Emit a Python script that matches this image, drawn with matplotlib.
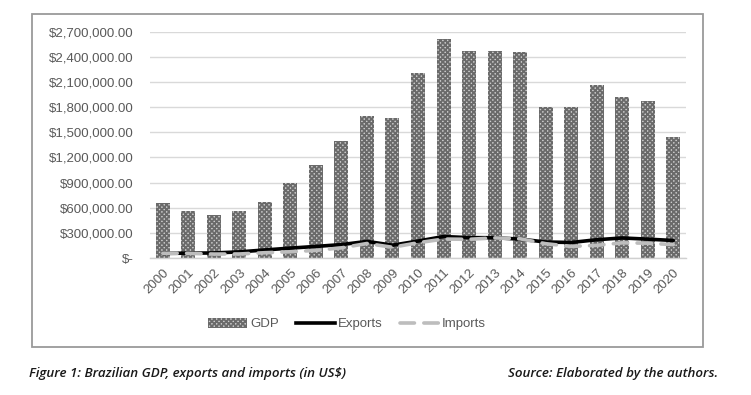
import matplotlib
matplotlib.use("Agg")
import matplotlib.pyplot as plt
from matplotlib.ticker import FuncFormatter
from matplotlib.patches import Rectangle, Patch
from matplotlib.lines import Line2D
import numpy as np

years = [str(y) for y in range(2000, 2021)]
gdp = [655000, 560000, 510000, 558000, 669000, 892000, 1107000, 1397000, 1696000,
       1667000, 2209000, 2616000, 2465000, 2473000, 2456000, 1802000, 1796000,
       2064000, 1917000, 1877000, 1445000]
exports = [55000, 58000, 60000, 73000, 96000, 118000, 138000, 160000, 198000, 153000,
           202000, 256000, 243000, 242000, 225000, 191000, 185000, 218000, 239000,
           225000, 209000]
imports = [56000, 56000, 47000, 48000, 63000, 74000, 91000, 121000, 173000, 128000,
           182000, 226000, 223000, 240000, 229000, 171000, 138000, 151000, 181000,
           177000, 159000]
yticks = [0, 300000, 600000, 900000, 1200000, 1500000, 1800000, 2100000, 2400000, 2700000]

plt.rcParams['font.family'] = ['Liberation Sans', 'DejaVu Sans']
plt.rcParams['hatch.linewidth'] = 1.3

W, H = 751, 395
fig = plt.figure(figsize=(W / 100, H / 100), dpi=100)

# outer chart frame
fig.patches.append(Rectangle((32 / W, 1 - 347 / H), (703 - 32) / W, (347 - 14) / H,
                             transform=fig.transFigure, fill=False,
                             edgecolor='#9a9a9a', linewidth=1.3, zorder=0))

ax = fig.add_axes([150 / W, 1 - 258 / H, (686 - 150) / W, (258 - 31.7) / H])
x = np.arange(len(years))

BAR_FC, BAR_EC, BAR_H = '#cdcdcd', '#6a6a6a', 'xxxxxxx'
ax.bar(x, gdp, width=0.55, facecolor=BAR_FC, edgecolor=BAR_EC,
       hatch=BAR_H, linewidth=0, zorder=2)
ax.plot(x, exports, color='black', linewidth=2.6, solid_capstyle='round', zorder=3)
ax.plot(x, imports, color='#bdbdbd', linewidth=2.6, dashes=(4, 2.6),
        dash_capstyle='round', zorder=4)

ax.set_xlim(-0.5, len(years) - 0.5)
ax.set_ylim(0, 2700000)
ax.set_yticks(yticks)


def fmt(v, pos):
    if v == 0:
        return '$-'
    return '${:,.2f}'.format(v)


ax.yaxis.set_major_formatter(FuncFormatter(fmt))
ax.set_xticks(x)
ax.set_xticklabels(years, rotation=45, ha='right', rotation_mode='anchor')
ax.tick_params(axis='both', length=0, labelsize=9.5, labelcolor='#595959')
ax.tick_params(axis='x', pad=6)
ax.tick_params(axis='y', pad=12)

ax.grid(axis='y', color='#d9d9d9', linewidth=1.0, zorder=0)
ax.set_axisbelow(True)
for s in ['top', 'right', 'left']:
    ax.spines[s].set_visible(False)
ax.spines['bottom'].set_color('#d0d0d0')
ax.spines['bottom'].set_linewidth(1.0)

handles = [Patch(facecolor=BAR_FC, edgecolor=BAR_EC, hatch=BAR_H, linewidth=0),
           Line2D([], [], color='black', linewidth=2.6),
           Line2D([], [], color='#bdbdbd', linewidth=2.6, dashes=(4, 2.6), dash_capstyle='round')]
fig.legend(handles, ['GDP', 'Exports', 'Imports'], loc='center',
           bbox_to_anchor=(347 / W, 1 - 324 / H), ncol=3, frameon=False,
           fontsize=9.5, labelcolor='#595959', handlelength=3.0, handleheight=0.8,
           handletextpad=0.2, columnspacing=1.3)

fig.text(29 / W, 1 - 374 / H, 'Figure 1: Brazilian GDP, exports and imports (in US$)',
         family=['Open Sans', 'DejaVu Sans'], style='italic', weight='semibold',
         fontsize=9.6, color='#1a1a1a', ha='left', va='center')
fig.text(718 / W, 1 - 374 / H, 'Source: Elaborated by the authors.',
         family=['Open Sans', 'DejaVu Sans'], style='italic', weight='semibold',
         fontsize=9.6, color='#1a1a1a', ha='right', va='center')

fig.savefig('out.png', dpi=100)
